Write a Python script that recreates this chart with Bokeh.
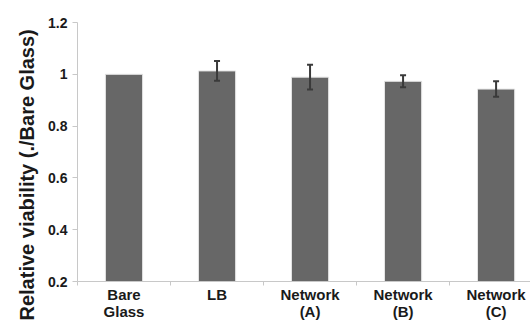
from bokeh.plotting import figure
from bokeh.models import ColumnDataSource, FixedTicker, Whisker, TeeHead, Range1d, Title
from bokeh.embed import file_html
from bokeh.resources import INLINE

# Relative viability per substrate, normalised to bare glass
categories = ["Bare\nGlass", "LB", "Network\n(A)", "Network\n(B)", "Network\n(C)"]
viability = [1.0, 1.013, 0.989, 0.973, 0.943]
errors = [0.0, 0.038, 0.048, 0.023, 0.030]
y_ticks = [0.2, 0.4, 0.6, 0.8, 1.0, 1.2]
y_tick_labels = ["0.2", "0.4", "0.6", "0.8", "1", "1.2"]
y_title = "Relative viability (./Bare Glass)"

centers = [i + 0.5 for i in range(len(categories))]
bounds = list(range(len(categories) + 1))

src = ColumnDataSource(dict(x=centers, top=viability))
err_src = ColumnDataSource(dict(
    x=[c for c, e in zip(centers, errors) if e > 0],
    upper=[v + e for v, e in zip(viability, errors) if e > 0],
    lower=[v - e for v, e in zip(viability, errors) if e > 0],
))

p = figure(width=530, height=322, output_backend="svg", toolbar_location=None,
           x_range=Range1d(0, 4.87), y_range=Range1d(0.2, 1.2),
           min_border_left=77, min_border_right=0, min_border_top=22,
           min_border_bottom=39)
p.outline_line_color = None
p.grid.grid_line_color = None
p.background_fill_color = "white"
p.border_fill_color = "white"

p.vbar(x="x", top="top", bottom=0.2, width=0.4, source=src,
       fill_color="#676767", line_color="#e6e6e6", line_width=1)

whisk = Whisker(base="x", upper="upper", lower="lower", source=err_src,
                level="overlay", line_color="#3a3a3a", line_width=2,
                upper_head=TeeHead(size=6, line_color="#3a3a3a", line_width=2),
                lower_head=TeeHead(size=6, line_color="#3a3a3a", line_width=2))
p.add_layout(whisk)

# x axis: labels at bar centres, tick marks at category boundaries
p.xaxis.ticker = FixedTicker(ticks=centers, minor_ticks=bounds)
p.xaxis.major_label_overrides = {c: lab for c, lab in zip(centers, categories)}
p.xaxis.major_tick_line_color = None
p.xaxis.major_tick_out = 0
p.xaxis.major_tick_in = 0
p.xaxis.minor_tick_line_color = "#c8c8c8"
p.xaxis.minor_tick_in = 0
p.xaxis.minor_tick_out = 4
p.xaxis.axis_line_color = "#c8c8c8"
p.xaxis.major_label_standoff = 0
p.xaxis.major_label_text_font = "Liberation Sans"
p.xaxis.major_label_text_font_style = "bold"
p.xaxis.major_label_text_font_size = "15px"
p.xaxis.major_label_text_line_height = 1.0
p.xaxis.major_label_text_color = "#1a1a1a"

p.yaxis.ticker = FixedTicker(ticks=y_ticks, minor_ticks=[])
p.yaxis.major_label_overrides = {t: lab for t, lab in zip(y_ticks, y_tick_labels)}
p.yaxis.axis_line_color = "#c8c8c8"
p.yaxis.major_tick_line_color = "#c8c8c8"
p.yaxis.major_tick_in = 0
p.yaxis.major_tick_out = 5
p.yaxis.major_label_standoff = 5
p.yaxis.major_label_text_font = "Liberation Sans"
p.yaxis.major_label_text_font_style = "bold"
p.yaxis.major_label_text_font_size = "14px"
p.yaxis.major_label_text_color = "#1a1a1a"

# rotated y title in its own left panel, starting just below the frame bottom
p.add_layout(Title(text=y_title, align="left", offset=-39, standoff=16,
                   text_font="Liberation Sans", text_font_style="bold",
                   text_font_size="20px", text_color="#1a1a1a"), "left")

open("out.html", "w").write(file_html(p, INLINE))
